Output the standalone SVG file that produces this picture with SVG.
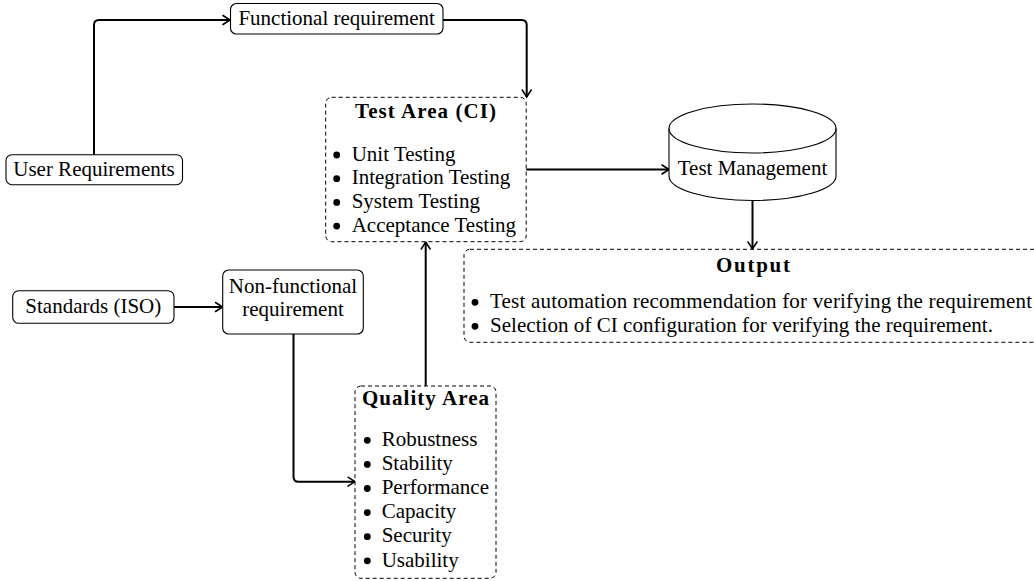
<svg xmlns="http://www.w3.org/2000/svg" width="1034" height="581" viewBox="0 0 1034 581">
<style>
text{font-family:"Liberation Serif","Times New Roman",serif;font-size:21px;fill:#000}
.t{text-anchor:middle}
.b{font-weight:bold}
.box{fill:#fff;stroke:#000;stroke-width:1.1}
.dbox{fill:#fff;stroke:#000;stroke-width:1;stroke-dasharray:4 3}
.conn{fill:none;stroke:#000;stroke-width:2;marker-end:url(#arr)}
</style>
<defs>
<marker id="arr" viewBox="-10 -6 12 12" refX="0" refY="0" markerWidth="12" markerHeight="12" markerUnits="userSpaceOnUse" orient="auto">
<path d="M -7 -4.5 Q -2 -1.2 0 0 Q -2 1.2 -7 4.5" fill="none" stroke="#000" stroke-width="1.5" stroke-linecap="round"/>
</marker>
</defs>
<rect width="1034" height="581" fill="#fff"/>
<g id="connectors">
<path class="conn" d="M 94 154.7 V 25 Q 94 20 99 20 H 230"/>
<path class="conn" d="M 443 20 H 521.7 Q 526.7 20 526.7 25 V 97"/>
<path class="conn" d="M 526 169.5 H 669"/>
<path class="conn" d="M 752.5 200.5 V 249"/>
<path class="conn" d="M 174 307 H 222.5"/>
<path class="conn" d="M 293.5 334 V 476.7 Q 293.5 481.7 298.5 481.7 H 355"/>
<path class="conn" d="M 425.7 386 V 242"/>
</g>
<g id="user-req">
<rect class="box" x="6" y="154.7" width="176.5" height="30" rx="6"/>
<text class="t" x="94" y="175.5">User Requirements</text>
</g>
<g id="functional">
<rect class="box" x="230.5" y="3.5" width="212.5" height="30.5" rx="6"/>
<text class="t" x="336.7" y="24.5">Functional requirement</text>
</g>
<g id="test-area">
<rect class="dbox" x="325.7" y="97.3" width="200.5" height="144.4" rx="6"/>
<text class="t b" x="425.5" y="118.3" textLength="141" lengthAdjust="spacing">Test Area (CI)</text>
<circle cx="336.7" cy="155" r="3.4"/><text x="351.7" y="160.7">Unit Testing</text>
<circle cx="336.7" cy="178.7" r="3.4"/><text x="351.7" y="184.4">Integration Testing</text>
<circle cx="336.7" cy="202.4" r="3.4"/><text x="351.7" y="208.1">System Testing</text>
<circle cx="336.7" cy="226.1" r="3.4"/><text x="351.7" y="231.8">Acceptance Testing</text>
</g>
<g id="test-management">
<path class="box" d="M 669 128.5 V 176 A 83.5 24.5 0 0 0 836 176 V 128.5 A 83.5 24.5 0 0 0 669 128.5 Z"/>
<path fill="none" stroke="#000" stroke-width="1.1" d="M 669 128.5 A 83.5 24.5 0 0 0 836 128.5"/>
<text class="t" x="752.5" y="175">Test Management</text>
</g>
<g id="output">
<rect class="dbox" x="464" y="249.3" width="580" height="93" rx="6"/>
<text class="t b" x="753" y="272" textLength="74" lengthAdjust="spacing">Output</text>
<circle cx="475" cy="302.3" r="3.4"/><text x="490" y="308" textLength="542" lengthAdjust="spacing">Test automation recommendation for verifying the requirement</text>
<circle cx="475" cy="326.3" r="3.4"/><text x="490" y="332" textLength="503" lengthAdjust="spacing">Selection of CI configuration for verifying the requirement.</text>
</g>
<g id="standards">
<rect class="box" x="12.7" y="290.7" width="161.3" height="32.6" rx="6"/>
<text class="t" x="93.3" y="313.3">Standards (ISO)</text>
</g>
<g id="non-functional">
<rect class="box" x="222.7" y="270" width="140.6" height="64" rx="6"/>
<text class="t" x="293" y="293.3">Non-functional</text>
<text class="t" x="293" y="315.5">requirement</text>
</g>
<g id="quality-area">
<rect class="dbox" x="355" y="386" width="141" height="192.3" rx="6"/>
<text class="t b" x="425.5" y="405" textLength="127" lengthAdjust="spacing">Quality Area</text>
<circle cx="367.3" cy="440.3" r="3.4"/><text x="381.7" y="446">Robustness</text>
<circle cx="367.3" cy="464.4" r="3.4"/><text x="381.7" y="470.1">Stability</text>
<circle cx="367.3" cy="488.5" r="3.4"/><text x="381.7" y="494.2">Performance</text>
<circle cx="367.3" cy="512.6" r="3.4"/><text x="381.7" y="518.3">Capacity</text>
<circle cx="367.3" cy="536.7" r="3.4"/><text x="381.7" y="542.4">Security</text>
<circle cx="367.3" cy="560.8" r="3.4"/><text x="381.7" y="566.5">Usability</text>
</g>
</svg>
